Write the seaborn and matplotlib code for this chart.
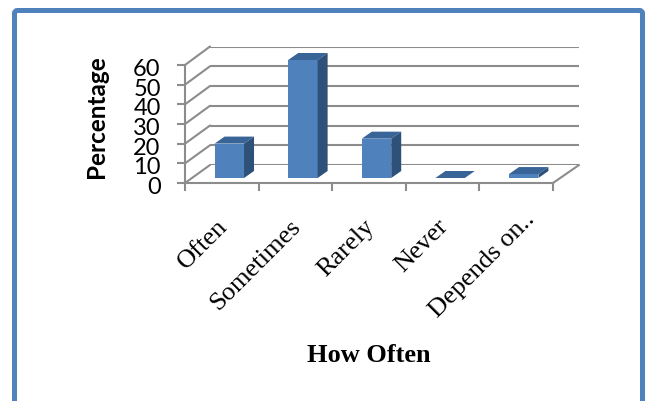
import matplotlib
matplotlib.use("Agg")
import matplotlib.pyplot as plt
import seaborn as sns
from matplotlib.patches import ConnectionPatch, FancyBboxPatch, Polygon
from matplotlib.transforms import Affine2D, IdentityTransform

categories = ["Often", "Sometimes", "Rarely", "Never", "Depends on.."]
percentages = [17.5, 60, 20, 0, 2]
y_ticks = [0, 10, 20, 30, 40, 50, 60]

W, H = 648, 401
FRAME = "#4F81BD"
GRID = "#8C8C8C"
BAR_FRONT = "#4F81BD"
BAR_TOP = "#386498"
BAR_SIDE = "#2E5179"
DEPTH_X, DEPTH_Y = 10, 7
LINE = 1.5

sns.set_theme(style="white")
fig = plt.figure(figsize=(W / 100, H / 100), dpi=100, facecolor="white")


def box(left, right, top, bottom):
    """Axes rectangle from pixel edges measured from the top-left corner."""
    return [left / W, 1 - bottom / H, (right - left) / W, (bottom - top) / H]


def setup(ax):
    ax.set_xlim(-0.5, 4.5)
    ax.set_ylim(0, 60)
    ax.patch.set_visible(False)
    for spine in ax.spines.values():
        spine.set_visible(False)


# Rounded outer frame, its lower edge running off the canvas
fig.add_artist(FancyBboxPatch(
    (14.5, -30), 628, H + 30 - 10.5,
    boxstyle="round,pad=0,rounding_size=3",
    transform=IdentityTransform(), facecolor="white", edgecolor=FRAME,
    linewidth=3.6, zorder=-1))

# Back wall with the horizontal gridlines
back = fig.add_axes(box(210, 579, 46.5, 165), zorder=0)
setup(back)
back.set_xticks([])
back.set_yticks(y_ticks)
back.set_yticklabels([])
back.tick_params(left=False)
back.grid(axis="y", color=GRID, linewidth=LINE)
back.set_axisbelow(True)

# Front plane carrying the value axis and the floor edge
front = fig.add_axes(box(185, 553, 65, 183), zorder=1)
setup(front)
front.spines["left"].set_visible(True)
front.spines["bottom"].set_visible(True)
for side in ("left", "bottom"):
    front.spines[side].set_color(GRID)
    front.spines[side].set_linewidth(LINE)
front.set_xticks([i - 0.5 for i in range(len(categories) + 1)])
front.set_xticklabels([])
front.set_yticks(y_ticks)
front.set_yticklabels([str(v) for v in y_ticks], fontfamily="Lato", fontsize=17, color="black")
front.tick_params(axis="both", direction="out", length=5.5, width=LINE, color=GRID, left=True, bottom=True)
front.tick_params(axis="y", pad=12)
for label in front.get_yticklabels():
    label.set_transform(label.get_transform() + Affine2D().translate(0, -2.5))
front.set_ylabel("Percentage", fontfamily="Lato", fontweight="bold", fontsize=17.5, color="black")
front.yaxis.label.set_transform(IdentityTransform())
front.yaxis.label.set_position((108, H - 117))
front.yaxis.set_label_coords(108, H - 117, transform=IdentityTransform())
front.set_xlabel("How Often", fontfamily="Liberation Serif", fontweight="bold", fontsize=19, color="black")
front.xaxis.set_label_coords(0.5, 1 - (356 - 65) / 118, transform=front.transAxes)
front.xaxis.label.set_verticalalignment("center")

# Diagonals joining the value axis to the wall, plus the right floor edge
for v in y_ticks:
    fig.add_artist(ConnectionPatch(
        (-0.5, v), (-0.5, v), coordsA=front.transData, coordsB=back.transData,
        color=GRID, linewidth=LINE, zorder=0.5))
fig.add_artist(ConnectionPatch(
    (4.5, 0), (4.5, 0), coordsA=front.transData, coordsB=back.transData,
    color=GRID, linewidth=LINE, zorder=0.5))

# Bars stand on a plane set back from the front edge
bars = fig.add_axes(box(192.5, 560.5, 60, 178), zorder=2)
sns.barplot(x=categories, y=percentages, color=BAR_FRONT, saturation=1, width=0.4,
            edgecolor="none", linewidth=0, ax=bars)
setup(bars)
bars.set_yticks([])
bars.set_xlabel("")
bars.set_ylabel("")
bars.tick_params(axis="x", length=0, pad=29)
bars.set_xticks(range(len(categories)))
bars.set_xticklabels(categories, rotation=45, ha="right", rotation_mode="anchor",
                     fontfamily="Liberation Serif", fontsize=19, color="black")
# The truncated last label sits a little higher and further right than the others
label_shifts = [(-13, 3)] * 4 + [(0, 10)]
for label, (dx, dy) in zip(bars.get_xticklabels(), label_shifts):
    label.set_transform(label.get_transform() + Affine2D().translate(dx, dy))

# Extruded top and side faces, offset in pixels from each bar's front face
depth = Affine2D().translate(DEPTH_X, DEPTH_Y)
for patch in list(bars.patches):
    x0, x1 = patch.get_x(), patch.get_x() + patch.get_width()
    h = patch.get_height()
    a = bars.transData.transform([(x0, h), (x1, h), (x1, 0)])
    b = depth.transform(a)
    top_face = [a[0], a[1], b[1], b[0]]
    side_face = [a[1], a[2], b[2], b[1]]
    bars.add_patch(Polygon(top_face, closed=True, transform=IdentityTransform(),
                           facecolor=BAR_TOP, edgecolor="none", clip_on=False))
    if h > 0:
        bars.add_patch(Polygon(side_face, closed=True, transform=IdentityTransform(),
                               facecolor=BAR_SIDE, edgecolor="none", clip_on=False))

fig.savefig("out.png", dpi=100, facecolor="white")
